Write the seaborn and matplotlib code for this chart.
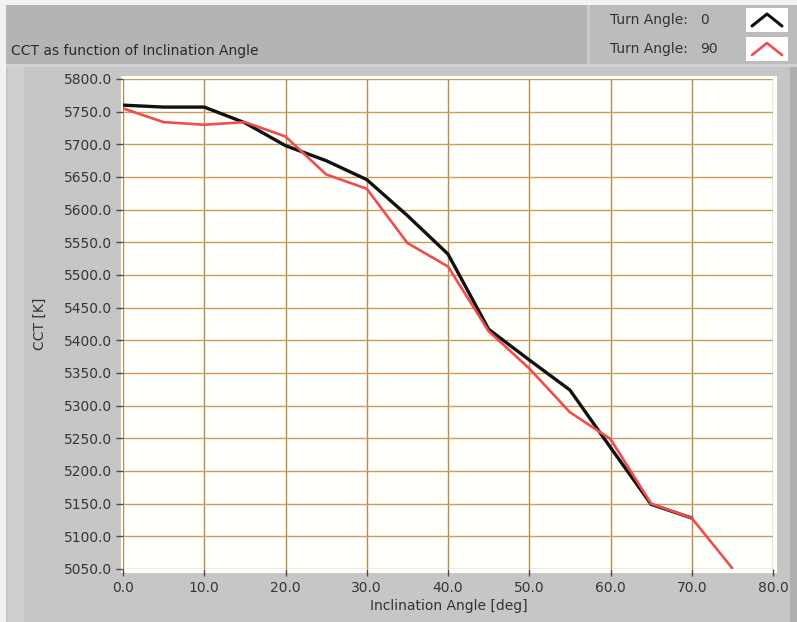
import matplotlib
matplotlib.use("Agg")
import matplotlib.pyplot as plt
from matplotlib.patches import Rectangle
from matplotlib.lines import Line2D
import pandas as pd
import seaborn as sns

# Correlated colour temperature vs. inclination angle, two turn angles
angle_turn0 = [0, 5, 10, 15, 20, 25, 30, 35, 40, 45, 50, 55, 60, 65, 70]
cct_turn0 = [5760, 5757, 5757, 5733, 5698, 5675, 5646, 5591, 5532, 5417,
             5370, 5324, 5236, 5149, 5128]

angle_turn90 = [0, 5, 10, 15, 20, 25, 30, 35, 40, 45, 50, 55, 60, 65, 70, 75]
cct_turn90 = [5755, 5734, 5730, 5734, 5712, 5654, 5632, 5549, 5513, 5414,
              5357, 5290, 5249, 5150, 5128, 5051]

series_names = ["0", "90"]
series_colors = ["#111111", "#f24c4c"]

title_text = "CCT as function of Inclination Angle"
x_label = "Inclination Angle [deg]"
y_label = "CCT [K]"
legend_prefix = "Turn Angle:"

x_ticks = [0, 10, 20, 30, 40, 50, 60, 70, 80]
y_ticks = [5050, 5100, 5150, 5200, 5250, 5300, 5350, 5400, 5450, 5500,
           5550, 5600, 5650, 5700, 5750, 5800]

df = pd.concat([
    pd.DataFrame({"angle": angle_turn0, "cct": cct_turn0, "turn": series_names[0]}),
    pd.DataFrame({"angle": angle_turn90, "cct": cct_turn90, "turn": series_names[1]}),
], ignore_index=True)

sns.set_style("white")
plt.rcParams["font.family"] = ["DejaVu Sans"]

W, H = 797, 622
fig = plt.figure(figsize=(W / 100, H / 100), dpi=100)
fig.patch.set_facecolor("#f2f2f2")


def fx(px):
    return px / W


def fy(py):
    return 1 - py / H


def frect(x0, y0, x1, y1, color, z=0, **kw):
    fig.add_artist(Rectangle((fx(x0), fy(y1)), fx(x1) - fx(x0), fy(y0) - fy(y1),
                             transform=fig.transFigure, facecolor=color,
                             edgecolor="none", zorder=z, **kw))


# panel backgrounds
frect(6, 5, W, H, "#c6c6c6", z=0)
frect(6, 5, W, 66, "#b4b4b4", z=0.1)
frect(6, 64, W, 67, "#d2d2d2", z=0.2)
frect(8, 67, 24, H, "#cfcfcf", z=0.2)
frect(790, 67, W, H, "#afafaf", z=0.2)
# legend panel
frect(587, 5, W, 64, "#bcbcbc", z=0.3)
frect(587, 5, 590, 64, "#cacaca", z=0.4)
# plot area background
frect(121, 76, 777, 573, "#fffffb", z=0.5)

ax = fig.add_axes([fx(123), fy(569), fx(773) - fx(123), fy(79) - fy(569)])
ax.patch.set_visible(False)
ax.set_zorder(2)

sns.lineplot(data=df, x="angle", y="cct", hue="turn", hue_order=series_names,
             palette=series_colors, ax=ax, legend=False, sort=False)
widths = [2.4, 1.9]
for line, lw, z in zip(ax.lines, widths, [3, 4]):
    line.set_linewidth(lw)
    line.set_zorder(z)
    line.set_solid_joinstyle("round")

ax.set_xlabel("")
ax.set_ylabel("")
ax.set_xlim(0, 80)
ax.set_ylim(5050, 5800)
ax.set_xticks(x_ticks)
ax.set_yticks(y_ticks)
ax.set_xticklabels([f"{v:.1f}" for v in x_ticks])
ax.set_yticklabels([f"{v:.1f}" for v in y_ticks])
ax.yaxis.grid(True, color="#cc9c58", linewidth=1.0)
ax.xaxis.grid(True, color="#b48c52", linewidth=1.0)
ax.set_axisbelow(True)
for s in ax.spines.values():
    s.set_visible(False)
ax.tick_params(axis="both", which="major", length=5, width=1, color="#4a4a4a",
               labelsize=10, labelcolor="#363636", direction="out")
ax.tick_params(axis="y", pad=3)
ax.tick_params(axis="x", pad=4)
ax.tick_params(left=True, bottom=True)

fig.text(fx(449), fy(606), x_label, ha="center", va="center", fontsize=10,
         color="#333333")
fig.text(fx(40), fy(324), y_label, ha="center", va="center", fontsize=10,
         color="#333333", rotation=90)
fig.text(fx(11), fy(51), title_text, ha="left", va="center", fontsize=10,
         color="#2a2a2a")

# legend rows
rows_y = [20, 49]
box_y = [(8, 32), (37, 61)]
for name, color, ty, (b0, b1) in zip(series_names, series_colors, rows_y, box_y):
    fig.text(fx(610), fy(ty), legend_prefix, ha="left", va="center",
             fontsize=10, color="#333333", zorder=5)
    fig.text(fx(700), fy(ty), name, ha="left", va="center", fontsize=10,
             color="#333333", zorder=5)
    frect(746, b0, 788, b1, "#ffffff", z=5)
    fig.add_artist(Line2D([fx(752), fx(767), fx(782)],
                          [fy(b1 - 6), fy(b0 + 6), fy(b1 - 6)],
                          transform=fig.transFigure, color=color,
                          linewidth=2.2 if name == "0" else 1.9, zorder=6))

fig.savefig("out.png", dpi=100, facecolor=fig.get_facecolor())
